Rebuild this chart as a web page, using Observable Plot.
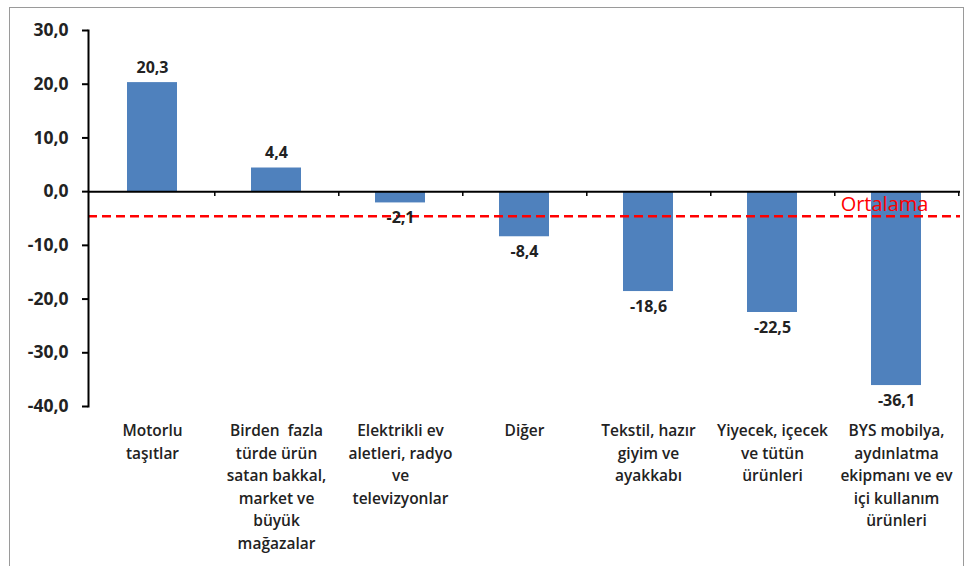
<!DOCTYPE html>
<html>
<head>
<meta charset="utf-8">
<script src="https://cdn.jsdelivr.net/npm/d3@7"></script>
<script src="https://cdn.jsdelivr.net/npm/@observablehq/plot@0.6"></script>
<style>
  html, body { margin: 0; padding: 0; background: #fff; }
  #wrap { position: relative; width: 973px; height: 566px; overflow: hidden; }
  #border { position: absolute; left: 9px; top: 7px; width: 955px; height: 570px; border: 1.5px solid #9a9a9a; box-sizing: border-box; pointer-events: none; }
  #chart { position: absolute; left: 0; top: 0; }
</style>
</head>
<body>
<div id="wrap"><div id="chart"></div><div id="border"></div></div>
<script>
const categories = [
  "Motorlu\ntaşıtlar",
  "Birden  fazla\ntürde ürün\nsatan bakkal,\nmarket ve\nbüyük\nmağazalar",
  "Elektrikli ev\naletleri, radyo\nve\ntelevizyonlar",
  "Diğer",
  "Tekstil, hazır\ngiyim ve\nayakkabı",
  "Yiyecek, içecek\nve tütün\nürünleri",
  "BYS mobilya,\naydınlatma\nekipmanı ve ev\niçi kullanım\nürünleri"
];
const values = [20.3, 4.4, -2.1, -8.4, -18.6, -22.5, -36.1];
const average = -4.6;
const averageLabel = "Ortalama";
const yTicks = [30, 20, 10, 0, -10, -20, -30, -40];

const data = categories.map((c, i) => ({category: c, value: values[i]}));
const fmt = d => d.toFixed(1).replace(".", ",");
const font = "'Open Sans', sans-serif";

const W = 973, H = 566, ML = 88, MR = 13;
const step = (W - ML - MR) / categories.length;

const chart = Plot.plot({
  width: W,
  height: H,
  marginLeft: ML,
  marginRight: MR,
  marginTop: 30,
  marginBottom: 160,
  style: {fontFamily: font, background: "transparent", color: "#222"},
  x: {domain: categories, paddingInner: 0.6, paddingOuter: 0.3, axis: null, label: null},
  y: {domain: [-40, 30], axis: null, label: null},
  marks: [
    Plot.barY(data, {x: "category", y: "value", fill: "#4F81BD"}),
    Plot.ruleY([0], {stroke: "#000", strokeWidth: 2}),
    Plot.ruleX(categories, {x: d => d, dx: step / 2, y1: 0, y2: -0.9, stroke: "#000", strokeWidth: 1.5}),
    Plot.ruleY([average], {stroke: "#ff0000", strokeWidth: 2.5, strokeDasharray: "9,5"}),
    Plot.text([averageLabel], {x: () => categories[categories.length - 1], y: () => average, text: d => d, lineAnchor: "bottom", dy: -5, dx: -12, fill: "#ff0000", fontSize: 20, fontFamily: font}),
    Plot.text(data, {x: "category", y: "value", text: d => fmt(d.value), lineAnchor: "bottom", filter: d => d.value >= 0, fontSize: 16, fontWeight: "bold", fill: "#222", fontFamily: font, dy: -10}),
    Plot.text(data, {x: "category", y: "value", text: d => fmt(d.value), lineAnchor: "top", filter: d => d.value < 0, fontSize: 16, fontWeight: "bold", fill: "#222", fontFamily: font, dy: 9}),
    Plot.frame({anchor: "left", stroke: "#000", strokeWidth: 2}),
    Plot.axisY(yTicks, {label: null, tickFormat: fmt, tickSize: 6, tickPadding: 14, fontSize: 17.5, fontWeight: "bold", fill: "#222", stroke: "#000", strokeWidth: 2, fontFamily: font}),
    Plot.axisX({label: null, tickSize: 0, tickPadding: 14, lineAnchor: "top", lineHeight: 1.45, fontSize: 15.5, fontWeight: 600, fill: "#222", fontFamily: font, textOverflow: null})
  ]
});
document.getElementById("chart").appendChild(chart);
</script>
</body>
</html>
